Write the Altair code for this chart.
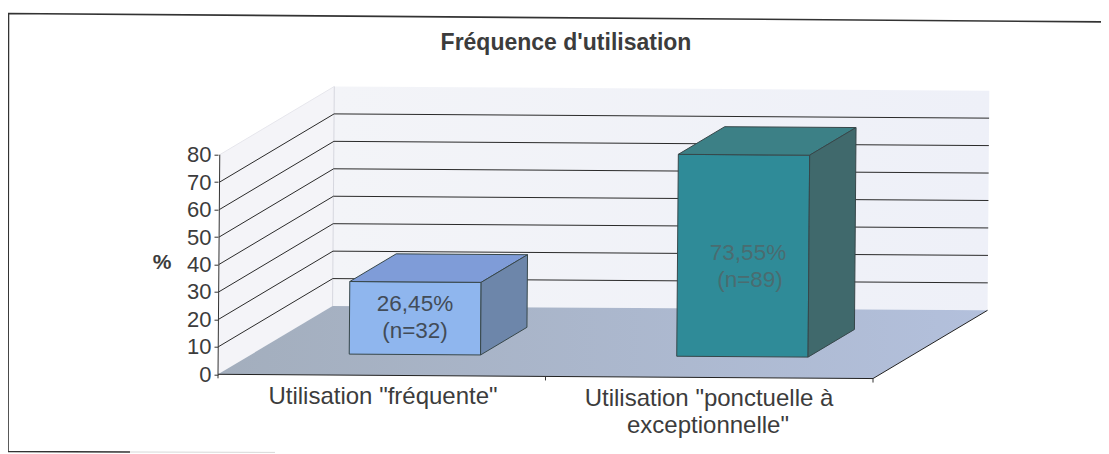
import altair as alt
import pandas as pd

# ---- chart values ----
categories = ['Utilisation "fréquente"', 'Utilisation "ponctuelle à exceptionnelle"']
cat_lines = [['Utilisation "fréquente"'], ['Utilisation "ponctuelle à', 'exceptionnelle"']]
percent = [26.45, 73.55]
percent_labels = ["26,45%", "73,55%"]
count_labels = ["(n=32)", "(n=89)"]
y_ticks = [0, 10, 20, 30, 40, 50, 60, 70, 80]
title_text = "Fréquence d'utilisation"
axis_title = "%"

# ---- geometry of the oblique projection, pixels on the page ----
X0, Y0 = 218.0, 374.3
PX_CAT = 327.5
PX_VAL = 2.745
DEPTH_X, DEPTH_Y = 114.0, 69.0
TILT = 0.0065
LEAN = 0.008
BAR_C = (0.294, 0.695)
BAR_D = (0.305, 0.71)
FONT = "Liberation Sans"
INK = "#3c3c3c"
PAGE_RIGHT, PAGE_BOTTOM = 1101, 454


def page(c, v, d=0.0):
    """category units, percent, depth -> page pixels"""
    px = X0 + c * PX_CAT + d * DEPTH_X
    py = Y0 - v * PX_VAL - d * DEPTH_Y
    return px + LEAN * (Y0 - py), py + TILT * (px - X0)


def to_data(px, py):
    return (px - X0) / PX_CAT, (Y0 - py) / PX_VAL


def scene(c, v, d=0.0):
    return to_data(*page(c, v, d))


xs = alt.Scale(domain=[0, 2], nice=False, zero=False)
ys = alt.Scale(domain=[0, 80], nice=False, zero=False)
y_axis = alt.Axis(values=y_ticks, domain=False, grid=False, tickSize=4, tickColor="#333333", labelFont=FONT,
                  labelFontSize=22, labelColor=INK, labelPadding=3, title=None)
X = alt.X("x:Q", scale=xs, axis=None)
Y = alt.Y("y:Q", scale=ys, axis=y_axis)


def poly_area(verts):
    """convex polygon -> x / y / y2 rows of an area"""
    n = len(verts)
    rows = []
    for x in sorted({v[0] for v in verts}):
        hits = []
        for i in range(n):
            (x1, y1), (x2, y2) = verts[i], verts[(i + 1) % n]
            if min(x1, x2) <= x <= max(x1, x2):
                if x1 == x2:
                    hits += [y1, y2]
                else:
                    hits.append(y1 + (y2 - y1) * (x - x1) / (x2 - x1))
        rows.append({"x": x, "y": min(hits), "y2": max(hits)})
    return pd.DataFrame(rows)


def path(corners, stroke, width=1.0):
    pts = [scene(*c) for c in corners]
    df = pd.DataFrame({"x": [p[0] for p in pts], "y": [p[1] for p in pts], "o": range(len(pts))})
    return alt.Chart(df).mark_line(color=stroke, strokeWidth=width, clip=False, interpolate="linear").encode(
        x=X, y=Y, order="o:O"
    )


def face(corners, fill, stroke=None, width=1.0):
    verts = [scene(*c) for c in corners]
    a = alt.Chart(poly_area(verts)).mark_area(color=fill, interpolate="linear", clip=False).encode(
        x=X, y=Y, y2="y2:Q"
    )
    if stroke is None:
        return [a]
    return [a, path(corners + corners[:1], stroke, width)]


def page_path(points, stroke, width=1.0):
    pts = [to_data(*p) for p in points]
    df = pd.DataFrame({"x": [p[0] for p in pts], "y": [p[1] for p in pts], "o": range(len(pts))})
    return alt.Chart(df).mark_line(color=stroke, strokeWidth=width, clip=False).encode(x=X, y=Y, order="o:O")


def grad(c1, c2):
    return alt.Gradient(gradient="linear", x1=0, x2=1, y1=0, y2=0,
                        stops=[alt.GradientStop(offset=0, color=c1), alt.GradientStop(offset=1, color=c2)])


def page_text(px, py, text, size, color=INK, weight="normal"):
    x, y = to_data(px, py)
    df = pd.DataFrame({"x": [x], "y": [y], "t": [text]})
    return alt.Chart(df).mark_text(font=FONT, fontSize=size, color=color, fontWeight=weight, align="center",
                                   baseline="middle", clip=False).encode(x=X, y=Y, text="t:N")


layers = []
VMAX = y_ticks[-1]

# walls and floor
layers += face([(0, 0, 1), (2, 0, 1), (2, VMAX, 1), (0, VMAX, 1)], grad("#f3f4f8", "#eef0f8"))
layers += face([(0, 0, 0), (0, 0, 1), (0, VMAX, 1), (0, VMAX, 0)], "#f4f4f8")
layers += face([(0, 0, 0), (2, 0, 0), (2, 0, 1), (0, 0, 1)], grad("#a3aebd", "#b3c0dc"))
layers.append(path([(0, 0, 1), (0, VMAX, 1)], "#d6d7df"))
layers.append(path([(0, VMAX, 0), (0, VMAX, 1)], "#e6e6ec"))

# gridlines
for t in y_ticks[1:-1]:
    layers.append(path([(0, t, 0), (0, t, 1), (2, t, 1)], "#2a2a2a", 1.0))

# axis lines
layers.append(path([(0, 0, 0), (0, VMAX, 0)], "#333333", 1.0))
layers.append(path([(0, 0, 0), (2, 0, 0), (2, 0, 1)], "#222222", 1.0))
for c in [0, 1, 2]:
    a = page(c, 0, 0)
    layers.append(page_path([a, (a[0], a[1] + 4)], "#333333", 1.0))

# bars
bar_colors = [("#8fb6ee", "#7f9cd8", "#6d86aa"), ("#2f8b98", "#3c8086", "#40696c")]
for i, val in enumerate(percent):
    c1, c2 = i + BAR_C[0], i + BAR_C[1]
    d1, d2 = BAR_D
    front, top, side = bar_colors[i]
    edge = "#37474a"
    layers += face([(c1, 0, d1), (c2, 0, d1), (c2, val, d1), (c1, val, d1)], front, edge)
    layers += face([(c1, val, d1), (c2, val, d1), (c2, val, d2), (c1, val, d2)], top, edge)
    layers += face([(c2, 0, d1), (c2, 0, d2), (c2, val, d2), (c2, val, d1)], side, edge)

# value labels
layers.append(page_text(415, 303.5, percent_labels[0], 22.5, "#424c58"))
layers.append(page_text(415, 330.5, count_labels[0], 22.5, "#424c58"))
layers.append(page_text(748, 252.5, percent_labels[1], 22.5, "#4a6c70"))
layers.append(page_text(750, 280, count_labels[1], 22.5, "#4a6c70"))

# category labels
layers.append(page_text(383, 396.5, cat_lines[0][0], 24))
layers.append(page_text(709, 398.5, cat_lines[1][0], 24))
layers.append(page_text(708, 425.5, cat_lines[1][1], 24))

# titles and frame
layers.append(page_text(566, 43, title_text, 23, weight="bold"))
layers.append(page_text(162, 263, axis_title, 21, weight="bold"))
layers.append(page_path([(PAGE_RIGHT, 21.9), (8.5, 13.5), (8.0, 451.5), (130, 452)], "#333333", 1.6))
layers.append(page_path([(130, 452), (275, 452.4)], "#d8d8d8", 1.0))

chart = (
    alt.layer(*layers)
    .properties(
        width=PX_CAT * 2,
        height=VMAX * PX_VAL,
        padding={"left": X0 - 8, "top": Y0 - VMAX * PX_VAL - 8, "right": PAGE_RIGHT - X0 - PX_CAT * 2,
                 "bottom": PAGE_BOTTOM - Y0},
        autosize=alt.AutoSizeParams(type="none"),
        background="#ffffff",
    )
    .configure_view(stroke=None)
)
chart.save("out.html", embed_options={"renderer": "svg", "actions": False})
